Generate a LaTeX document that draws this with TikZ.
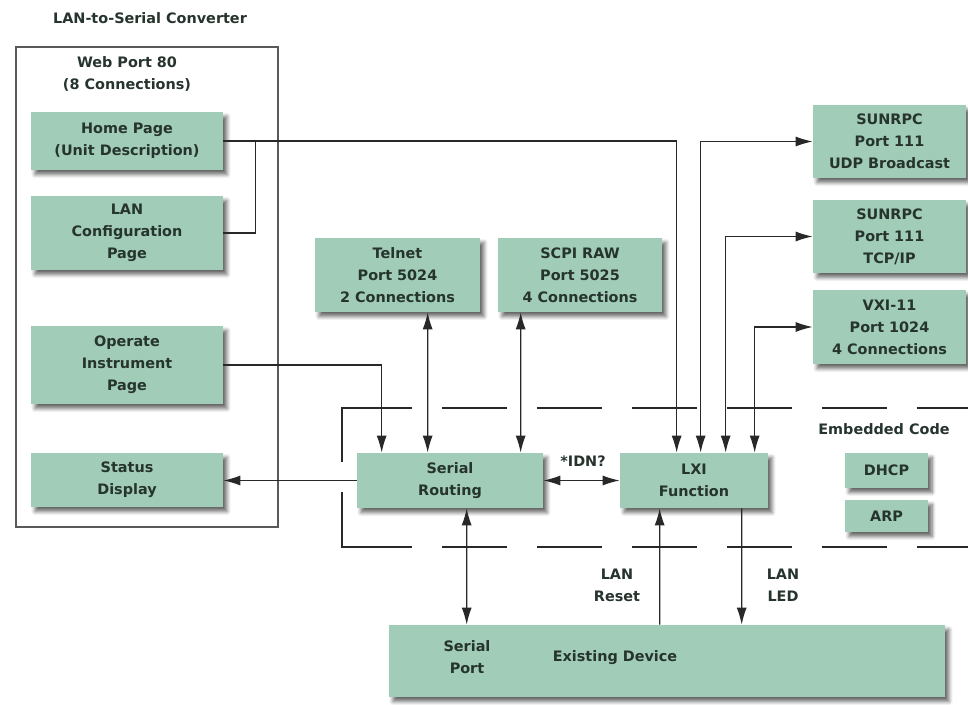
\documentclass[tikz,border=0pt]{standalone}
\usepackage{fontspec}
\setmainfont{DejaVu Sans}
\usetikzlibrary{arrows.meta,calc,shadows.blur}
\definecolor{boxgreen}{RGB}{160,204,184}
\definecolor{boxtext}{RGB}{38,52,45}
\definecolor{linegray}{RGB}{40,40,40}
\tikzset{
  blk/.style={fill=boxgreen, draw=none, text=boxtext, align=center, inner sep=0pt,
    blur shadow={shadow xshift=0.08cm, shadow yshift=-0.09cm, shadow blur steps=6, shadow opacity=60}},
  lbl/.style={text=boxtext, align=center, inner sep=0pt},
  wire/.style={draw=linegray, line width=0.024cm},
  arr/.style={wire, -{Latex[length=0.34cm,width=0.2cm]}},
  dbl/.style={wire, {Latex[length=0.34cm,width=0.2cm]}-{Latex[length=0.34cm,width=0.2cm]}},
}
\begin{document}
\begin{tikzpicture}[x=0.02cm, y=-0.02cm, font=\fontsize{8.2}{12.5}\selectfont\bfseries]
            \useasboundingbox (0,0) rectangle (968,705);

            % Converter frame and titles
            \draw [line width=0.03cm, draw=black!65] (16,47) rectangle (278,527);%
            \node [lbl] (title) at (150,18) {LAN-to-Serial Converter};%
            \node [lbl] (webport) at (127,74) {Web Port 80\\(8 Connections)};%

            % Embedded code frame
            \draw [wire] (342,462) -- (342,408) -- (412,408);%
            \draw [wire] (342,492) -- (342,547) -- (412,547);%
            \draw [wire, dash pattern=on 1.3cm off 0.6cm] (442,408) -- (968,408);%
            \draw [wire, dash pattern=on 1.3cm off 0.6cm] (442,547) -- (968,547);%
            \node [lbl] (embedded) at (884,429) {Embedded Code};%

            % Web pages
            \node [blk, minimum width=3.84cm, minimum height=1.16cm] (home) at (127,141) {Home Page\\(Unit Description)};%
            \node [blk, minimum width=3.84cm, minimum height=1.48cm] (lancfg) at (127,233) {LAN\\Configuration\\Page};%
            \node [blk, minimum width=3.84cm, minimum height=1.56cm] (operate) at (127,365) {Operate\\Instrument\\Page};%
            \node [blk, minimum width=3.84cm, minimum height=1.08cm] (status) at (127,480) {Status\\Display};%

            % Ports
            \node [blk, minimum width=3.30cm, minimum height=1.48cm] (telnet) at (397.5,275) {Telnet\\Port 5024\\2 Connections};%
            \node [blk, minimum width=3.28cm, minimum height=1.48cm] (scpi) at (580,275) {SCPI RAW\\Port 5025\\4 Connections};%
            \node [blk, minimum width=3.06cm, minimum height=1.46cm] (udp) at (889.5,141.5) {SUNRPC\\Port 111\\UDP Broadcast};%
            \node [blk, minimum width=3.06cm, minimum height=1.46cm] (tcp) at (889.5,236.5) {SUNRPC\\Port 111\\TCP/IP};%
            \node [blk, minimum width=3.06cm, minimum height=1.48cm] (vxi) at (889.5,327) {VXI-11\\Port 1024\\4 Connections};%

            % Embedded blocks
            \node [blk, minimum width=3.72cm, minimum height=1.10cm] (serial) at (450,480.5) {Serial\\Routing};%
            \node [blk, minimum width=2.96cm, minimum height=1.10cm] (lxi) at (694,480.5) {LXI\\Function};%
            \node [blk, minimum width=1.66cm, minimum height=0.70cm] (dhcp) at (886.5,470.5) {DHCP};%
            \node [blk, minimum width=1.66cm, minimum height=0.64cm] (arp) at (886.5,516) {ARP};%

            % Existing device
            \node [blk, minimum width=11.12cm, minimum height=1.44cm] (device) at (667,661) {};%
            \node [lbl] (serport) at (467,657) {Serial\\Port};%
            \node [lbl] (devname) at (615,658) {Existing Device};%

            % Drawing connectors
            \draw [arr] (home.east) -| ($(lxi.north west)+(57,0)$);%
            \draw [wire] (lancfg.east) -- ++(32,0) |- (home.east);%
            \draw [arr] (operate.east) -| ($(serial.north west)+(25,0)$);%
            \draw [dbl] ($(telnet.south west)+(113,0)$) -- ($(serial.north west)+(71,0)$);%
            \draw [dbl] ($(scpi.south west)+(23,0)$) -- ($(serial.north west)+(164,0)$);%
            \draw [arr] (serial.west) -- (serial.west -| status.east);%
            \draw [dbl] (serial.east) -- (lxi.west);%
            \draw [dbl] ($(serial.south west)+(110,0)$) -- ($(device.north west)+(78,0)$);%
            \draw [dbl] ($(lxi.north west)+(81,0)$) |- (udp.west);%
            \draw [dbl] ($(lxi.north west)+(106,0)$) |- (tcp.west);%
            \draw [dbl] ($(lxi.north west)+(135,0)$) |- (vxi.west);%
            \draw [arr] ($(device.north west)+(271,0)$) -- ($(lxi.south west)+(40,0)$);%
            \draw [arr] ($(lxi.south west)+(122,0)$) -- ($(device.north west)+(353,0)$);%

            % Marking connector labels
            \node [lbl] (idn) at (583,461) {*IDN?};%
            \node [lbl] (lanreset) at (617,585) {LAN\\Reset};%
            \node [lbl] (lanled) at (783,585) {LAN\\LED};%
\end{tikzpicture}
\end{document}
